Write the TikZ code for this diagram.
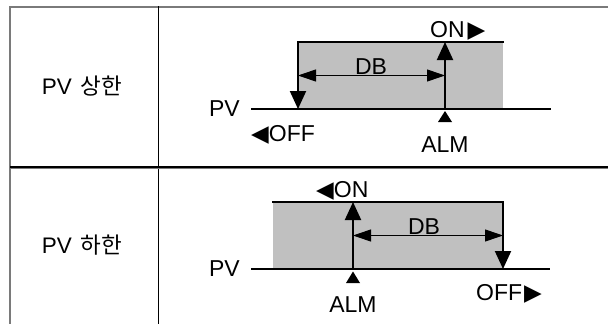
\documentclass[tikz,border=0pt]{standalone}
\usepackage{fontspec}
\setmainfont{Liberation Sans}
\newfontfamily\lbl{Liberation Sans}
\newfontfamily\sym{DejaVu Sans}
\newfontfamily\kr{Noto Sans CJK KR}
\usetikzlibrary{arrows.meta}
\definecolor{band}{HTML}{C0C0C0}
\definecolor{rule}{HTML}{7A7A7A}
\newcommand{\rtri}{{\sym\fontsize{23}{26}\selectfont ▶}}
\newcommand{\ltri}{{\sym\fontsize{23}{26}\selectfont ◀}}
\tikzset{
  heavy/.style={line width=2pt, line cap=rect},
  vtip/.style={line width=2pt, -{Triangle[length=18pt,width=16pt]}},
  dbarrow/.style={line width=1pt, {Triangle[length=18pt,width=12pt]}-{Triangle[length=18pt,width=12pt]}},
  lbltext/.style={inner sep=0pt, font=\lbl\fontsize{23}{27}\selectfont},
  rowtext/.style={inner sep=0pt, font=\fontsize{22.5}{27}\selectfont},
}
\begin{document}
\begin{tikzpicture}[x=1pt,y=-1pt]
\useasboundingbox (0,0) rectangle (608,324);
% table rules
\draw[rule, line width=2pt] (9,6.5) -- (608,6.5);
\draw[rule, line width=1.6pt] (10,6) -- (10,324);
\draw[black, line width=1.2pt] (158.5,6) -- (158.5,324);
\draw[rule, line width=1pt] (10,168.5) -- (608,168.5);
\draw[black, line width=1.2pt] (10,167) -- (608,167);
% row labels
\node[rowtext] (r1) at (82,86) {PV\hspace{0.4em}{\kr 상한}};
\node[rowtext] (r2) at (82,245) {PV\hspace{0.4em}{\kr 하한}};

% ---------- upper diagram ----------
\coordinate (uTL) at (298,42);
\coordinate (uTR) at (503,42);
\coordinate (uBL) at (298,109);
\coordinate (uBR) at (503,109);
\coordinate (uA) at (445,109);
\coordinate (uAt) at (445,42);
\coordinate (uPVs) at (252,109);
\coordinate (uPVe) at (550,109);
\coordinate (uDBl) at (298,75.5);
\coordinate (uDBr) at (445,75.5);
\fill[band] (uTL) rectangle (uBR);
\draw[heavy] (uPVs) -- (uPVe);
\draw[heavy] (uTL) -- (uTR);
\draw[vtip] (uTL) -- (uBL);
\draw[vtip] (uA) -- (uAt);
\draw[dbarrow] (uDBl) -- (uDBr);
\node[lbltext, anchor=base] (udb) at (371,74) {DB};
\node[lbltext, anchor=base west] (uon) at (430,37) {ON\kern3pt\rtri};
\node[lbltext, anchor=base east] (upv) at (240,116) {PV};
\node[lbltext, anchor=base west] (uoff) at (251,141) {\ltri OFF};
\fill (445,111) -- (452,122) -- (438,122) -- cycle;
\node[lbltext, anchor=base] (ualm) at (445,152) {ALM};

% ---------- lower diagram ----------
\coordinate (lTL) at (273,202);
\coordinate (lTR) at (503,202);
\coordinate (lBL) at (273,269);
\coordinate (lBR) at (503,269);
\coordinate (lA) at (353,269);
\coordinate (lAt) at (353,202);
\coordinate (lPVs) at (252,269);
\coordinate (lPVe) at (549,269);
\coordinate (lDBl) at (353,235.5);
\coordinate (lDBr) at (503,235.5);
\fill[band] (lTL) rectangle (lBR);
\draw[heavy] (lPVs) -- (lPVe);
\draw[heavy] (lTL) -- (lTR);
\draw[vtip] (lTR) -- (lBR);
\draw[vtip] (lA) -- (lAt);
\draw[dbarrow] (lDBl) -- (lDBr);
\node[lbltext, anchor=base] (ldb) at (424,234) {DB};
\node[lbltext, anchor=base west] (lon) at (316,197) {\ltri ON};
\node[lbltext, anchor=base east] (lpv) at (240,276) {PV};
\node[lbltext, anchor=base west] (loff) at (476,300) {OFF\kern2pt\rtri};
\fill (353,271.5) -- (360,283) -- (346,283) -- cycle;
\node[lbltext, anchor=base] (lalm) at (353,312) {ALM};
\end{tikzpicture}
\end{document}
